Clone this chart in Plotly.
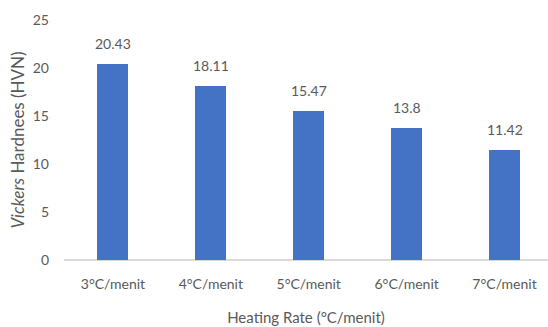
import plotly.graph_objects as go

categories = ["3°C/menit", "4°C/menit", "5°C/menit", "6°C/menit", "7°C/menit"]
hardness = [20.43, 18.11, 15.47, 13.8, 11.42]
value_labels = ["20.43", "18.11", "15.47", "13.8", "11.42"]
y_ticks = [0, 5, 10, 15, 20, 25]

FONT = "Lato, sans-serif"
GRAY = "#595959"

fig = go.Figure()
fig.add_trace(go.Bar(
    x=list(range(len(categories))),
    y=hardness,
    width=0.316,
    marker=dict(color="#4472C4", line=dict(width=0)),
    hoverinfo="skip",
))

for i, (v, t) in enumerate(zip(hardness, value_labels)):
    fig.add_annotation(x=i, y=v, text=t, showarrow=False, yanchor="bottom",
                       yshift=10, font=dict(family=FONT, size=14, color=GRAY))

fig.update_layout(
    width=548, height=327,
    margin=dict(l=63.5, r=0, t=20, b=67),
    paper_bgcolor="white", plot_bgcolor="white",
    showlegend=False,
    bargap=0,
    font=dict(family=FONT, size=14, color=GRAY),
)
fig.update_xaxes(
    tickmode="array", tickvals=list(range(len(categories))), ticktext=categories,
    range=[-0.5, 4.444], showgrid=False, zeroline=False,
    showline=False, ticks="", tickfont=dict(family=FONT, size=14, color=GRAY),
    ticklabelstandoff=14,
    title=dict(text="Heating Rate (°C/menit)", font=dict(family=FONT, size=15, color=GRAY), standoff=21),
)
fig.update_yaxes(
    range=[0, 25], tickvals=y_ticks, showgrid=False, zeroline=True,
    zerolinecolor="#D9D9D9", zerolinewidth=2, showline=False, ticks="",
    tickfont=dict(family=FONT, size=14, color=GRAY), ticklabelstandoff=14,
    title=dict(text="<i>Vickers</i> Hardnees (HVN)", font=dict(family=FONT, size=17, color=GRAY), standoff=3),
)

fig.write_html("out.html")
